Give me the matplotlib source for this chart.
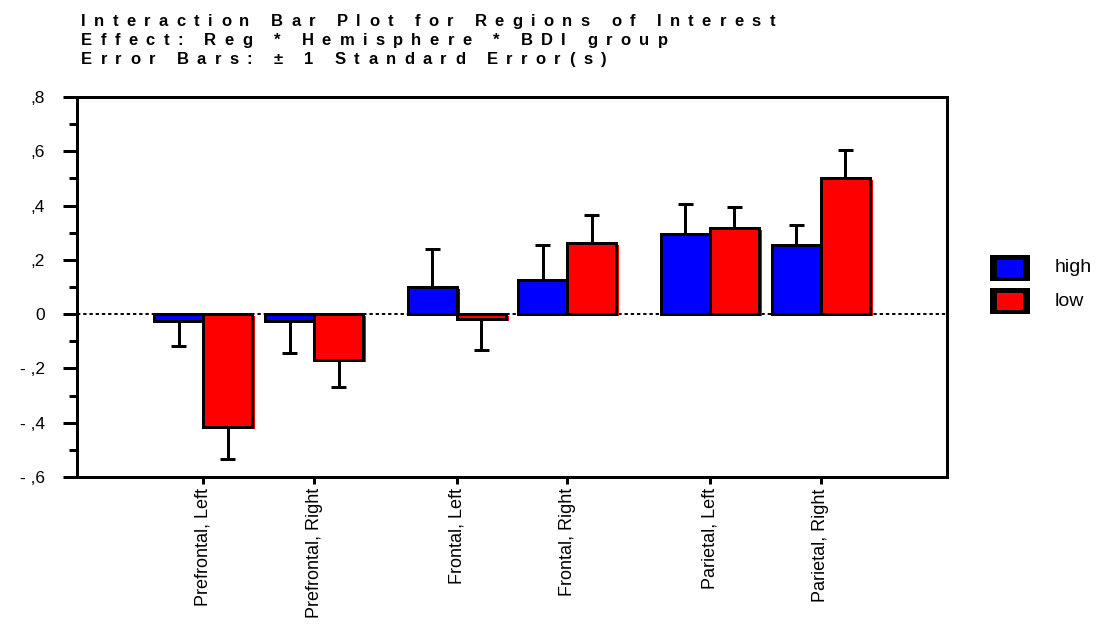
import numpy as np
import matplotlib
matplotlib.use("Agg")
import matplotlib.pyplot as plt
from matplotlib.transforms import ScaledTranslation, IdentityTransform
from matplotlib.patches import Rectangle
from matplotlib.font_manager import FontProperties

# ---- data -------------------------------------------------------------
regions = ["Prefrontal, Left", "Prefrontal, Right", "Frontal, Left",
           "Frontal, Right", "Parietal, Left", "Parietal, Right"]
groups = ["high", "low"]
high_mean = [-0.024, -0.024, 0.100, 0.125, 0.297, 0.254]
high_se = [0.093, 0.121, 0.140, 0.130, 0.110, 0.074]
low_mean = [-0.415, -0.170, -0.018, 0.263, 0.319, 0.502]
low_se = [0.117, 0.100, 0.115, 0.102, 0.074, 0.102]
ytick_values = [-0.6, -0.4, -0.2, 0.0, 0.2, 0.4, 0.6, 0.8]
ytick_labels = ["- ,6", "- ,4", "- ,2", "0", ",2", ",4", ",6", ",8"]
title_lines = ["Interaction Bar Plot for Regions of Interest",
               "Effect: Reg * Hemisphere * BDI group",
               "Error Bars: \u00b1 1 Standard Error(s)"]

# ---- style ------------------------------------------------------------
colors = {"high": "#0000ff", "low": "#ff0000"}
FONT = "Liberation Sans"
W, H, DPI = 1115, 639, 100
PX = 72.0 / DPI            # points per pixel
EDGE = 3 * PX              # 3 px outlines

fig = plt.figure(figsize=(W / DPI, H / DPI), dpi=DPI)
ax = fig.add_axes([77 / W, 1 - 477 / H, 870 / W, 380 / H])

# pair layout: bar width 1, region pairs closer than the region gaps
bar_w = 1.0
margin = 2.58
steps = [0.0, 2.26, 2.91, 2.26, 2.91, 2.26]
centers = margin + np.cumsum(steps)
ax.set_xlim(0, centers[-1] + margin)
ax.set_ylim(ytick_values[0], ytick_values[-1])

# zero reference line
ax.axhline(0, color="black", lw=1.4, ls=(0, (1.7, 1.5)), zorder=1)

shift = ScaledTranslation(3 / DPI, -2 / DPI, fig.dpi_scale_trans)
for offset, name, means, ses in [(-0.5, "high", high_mean, high_se),
                                 (0.5, "low", low_mean, low_se)]:
    xs = centers + offset * bar_w
    # fill, plus a slightly offset copy of the fill
    ax.bar(xs, means, width=bar_w, color=colors[name], lw=0, zorder=2)
    shadow = ax.bar(xs, means, width=bar_w, color=colors[name], lw=0, zorder=2)
    for p in shadow:
        p.set_transform(ax.transData + shift)
    ax.bar(xs, means, width=bar_w, facecolor="none", edgecolor="black",
           lw=EDGE, zorder=3)
    # one-sided error bars pointing away from zero
    m = np.asarray(means)
    s = np.asarray(ses)
    ends = m + np.sign(m) * s
    cap = 0.155
    ax.vlines(xs, m, ends, color="black", lw=EDGE, zorder=4)
    ax.hlines(ends, xs - cap, xs + cap, color="black", lw=EDGE, zorder=4)

# axes, ticks
for sp in ax.spines.values():
    sp.set_linewidth(EDGE)
ax.set_yticks(ytick_values)
ax.set_yticklabels(ytick_labels, fontfamily=FONT, fontsize=12.5)
minor = [(a + b) / 2 for a, b in zip(ytick_values[:-1], ytick_values[1:])]
ax.set_yticks(minor, minor=True)
ax.tick_params(axis="y", which="major", direction="out", length=14 * PX,
               width=EDGE, pad=13)
ax.tick_params(axis="y", which="minor", direction="out", length=8 * PX,
               width=EDGE)
ax.set_xticks(centers)
ax.set_xticklabels(regions, rotation=90, fontfamily=FONT, fontsize=13,
                   va="top", ha="center")
ax.tick_params(axis="x", direction="out", length=7 * PX, width=EDGE, pad=3)

# ---- title with wide letter spacing ----------------------------------
title_prop = FontProperties(family=FONT, weight="bold", size=12)
renderer = fig.canvas.get_renderer()


def advance(ch):
    w1, _, _ = renderer.get_text_width_height_descent("|" + ch + "|",
                                                      title_prop, ismath=False)
    w0, _, _ = renderer.get_text_width_height_descent("||", title_prop,
                                                      ismath=False)
    return w1 - w0


def natural_width(s):
    return sum(advance(c) for c in s)


x0 = 81
line1_end = 775
tracking = (line1_end - x0 - natural_width(title_lines[0])) / (len(title_lines[0]) - 1)
baselines = [26, 45, 64]
for line, base in zip(title_lines, baselines):
    x = x0
    for ch in line:
        if ch != " ":
            fig.text(x, H - base, ch, transform=IdentityTransform(),
                     fontproperties=title_prop, ha="left", va="baseline")
        x += advance(ch) + tracking

# ---- legend -----------------------------------------------------------
box_x, box_w, box_h = 990, 40, 26
inner_dx, inner_dy = 7, 4.5
legend_tops = [255, 288]
for name, top in zip(groups, legend_tops):
    fig.add_artist(Rectangle((box_x, H - top - box_h), box_w, box_h,
                             facecolor="black", edgecolor="none",
                             transform=IdentityTransform()))
    fig.add_artist(Rectangle((box_x + inner_dx, H - top - box_h + inner_dy),
                             box_w - 2 * inner_dx, box_h - 2 * inner_dy,
                             facecolor=colors[name], edgecolor="none",
                             transform=IdentityTransform()))
    fig.text(1055, H - top - box_h / 2, name, transform=IdentityTransform(),
             fontfamily=FONT, fontsize=14, ha="left", va="center")

fig.savefig("out.png", dpi=DPI, facecolor="white")
